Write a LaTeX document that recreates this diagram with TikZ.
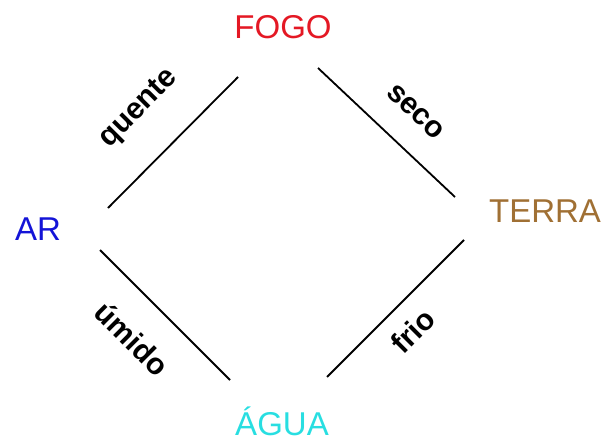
\documentclass[tikz,border=0pt]{standalone}
\usepackage{fontspec}
\setmainfont{Liberation Sans}
\usepackage{tikz}

\definecolor{fogored}{RGB}{228,24,36}
\definecolor{arblue}{RGB}{20,20,215}
\definecolor{terrabrown}{RGB}{160,112,52}
\definecolor{aguacyan}{RGB}{40,222,225}

\tikzset{
    elemento/.style={inner sep=0pt, anchor=base, font=\fontsize{33}{40}\selectfont},
    qualidade/.style={inner sep=0pt, sloped, font=\fontsize{30}{36}\selectfont\bfseries},
    ligacao/.style={line width=1.8pt}
}

\begin{document}
\begin{tikzpicture}[x=1pt, y=-1pt]
        \useasboundingbox (0, 0) rectangle (604, 444);

        \node[elemento, fogored] (fogo) at (283, 39) {FOGO};
        \node[elemento, arblue] (ar) at (38, 240.5) {AR};
        \node[elemento, terrabrown] (terra) at (545, 222) {TERRA};
        \node[elemento, aguacyan] (agua) at (282, 435) {ÁGUA};

        \coordinate (ar-n) at (108, 208);
        \coordinate (fogo-w) at (238, 77);
        \coordinate (fogo-e) at (318, 68);
        \coordinate (terra-n) at (455, 197);
        \coordinate (terra-s) at (464, 240);
        \coordinate (agua-e) at (327, 377);
        \coordinate (agua-w) at (230, 380);
        \coordinate (ar-s) at (100, 250);

        \draw[ligacao] (ar-n) -- node[qualidade, pos=0.5, above=34pt] {quente} (fogo-w);
        \draw[ligacao] (fogo-e) -- node[qualidade, pos=0.537, above=26pt] {seco} (terra-n);
        \draw[ligacao] (ar-s) -- node[qualidade, pos=0.467, below=28pt] {úmido} (agua-w);
        \draw[ligacao] (agua-e) -- node[qualidade, pos=0.48, below=16pt] {frio} (terra-s);
    \end{tikzpicture}
\end{document}
